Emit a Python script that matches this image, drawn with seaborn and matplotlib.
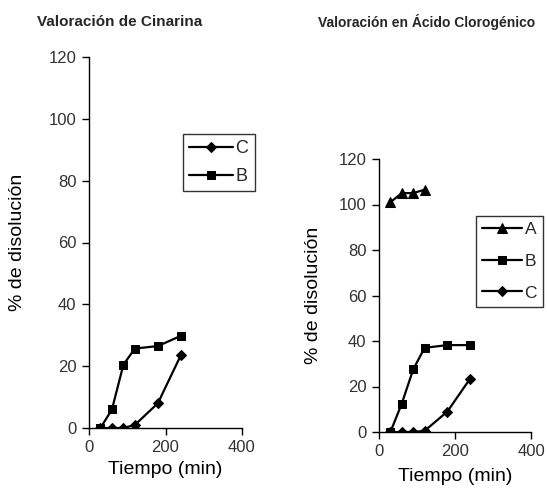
import matplotlib
matplotlib.use("Agg")
import matplotlib.pyplot as plt
import seaborn as sns
import pandas as pd

sns.set_theme(style="white")
plt.rcParams['font.family'] = ['Liberation Sans', 'DejaVu Sans']

# Left panel: Valoración de Cinarina
left_time = [30, 60, 90, 120, 180, 240]
left_B = [0, 6, 20.5, 25.7, 26.5, 29.8]
left_C = [0, 0, 0, 1, 8, 23.5]

# Right panel: Valoración en Ácido Clorogénico
right_time_A = [30, 60, 90, 120]
right_A = [101, 105, 105, 106.5]
right_time = [30, 60, 90, 120, 180, 240]
right_B = [0, 12.5, 27.5, 37, 38.2, 38.2]
right_C = [0, 0, 0, 0.5, 9, 23.5]

titles = ["Valoración de Cinarina", "Valoración en Ácido Clorogénico"]
xlabel = "Tiempo (min)"
ylabel = "% de disolución"
xticks = [0, 200, 400]
yticks = [0, 20, 40, 60, 80, 100, 120]

df_left = pd.DataFrame({
    "t": left_time * 2,
    "v": left_C + left_B,
    "s": ["C"] * len(left_time) + ["B"] * len(left_time),
})
df_right = pd.DataFrame({
    "t": right_time_A + right_time + right_time,
    "v": right_A + right_B + right_C,
    "s": ["A"] * len(right_time_A) + ["B"] * len(right_time) + ["C"] * len(right_time),
})

markers = {"A": "^", "B": "s", "C": "D"}
msizes = {"^": 7, "s": 5.2, "D": 5.0}
palette = {"A": "black", "B": "black", "C": "black"}

fig = plt.figure(figsize=(5.47, 4.88), dpi=100)
ax1 = fig.add_axes([89/547, 1-428/488, (242-89)/547, (428-57)/488])
ax2 = fig.add_axes([379/547, 1-432/488, (531-379)/547, (432-159)/488])

def draw(ax, df, order, leg_pos, ylabelpad, xlabelpad, spacing, lfs, hl):
    sns.lineplot(data=df, x="t", y="v", hue="s", style="s", hue_order=order,
                 style_order=order, markers=markers, dashes=False, palette=palette,
                 ax=ax, linewidth=1.6, markersize=5, markeredgecolor="black")
    for ln in ax.lines:
        m = ln.get_marker()
        if m in msizes:
            ln.set_markersize(msizes[m])
    ax.set_xlim(0, 400)
    ax.set_ylim(0, 120)
    ax.set_xticks(xticks)
    ax.set_yticks(yticks)
    for sp in ["top", "right"]:
        ax.spines[sp].set_visible(False)
    for sp in ["left", "bottom"]:
        ax.spines[sp].set_color("black")
        ax.spines[sp].set_linewidth(1.0)
    ax.tick_params(axis="both", direction="out", length=5, width=1, color="black",
                   labelsize=12, labelcolor="#333333", pad=4, bottom=True, left=True)
    ax.set_xlabel(xlabel, fontsize=14, color="black", labelpad=xlabelpad)
    ax.set_ylabel(ylabel, fontsize=14, color="black", labelpad=ylabelpad)
    handles, labels = ax.get_legend_handles_labels()
    for h in handles:
        m = h.get_marker()
        if m in msizes:
            h.set_markersize(msizes[m])
    leg = ax.legend(handles, labels, loc="upper left", bbox_to_anchor=leg_pos,
                    bbox_transform=fig.transFigure, frameon=True, fancybox=False,
                    fontsize=lfs, handlelength=hl, handletextpad=0.15,
                    borderpad=0.35, labelspacing=spacing, borderaxespad=0)
    leg.get_frame().set_edgecolor("black")
    leg.get_frame().set_linewidth(1.0)

draw(ax1, df_left, ["C", "B"], (183/547, 1-134/488), 16, 4, 0.6, 13, 2.4)
draw(ax2, df_right, ["A", "B", "C"], (476/547, 1-216/488), 12, 6, 0.95, 12.5, 2.3)

fig.text(37/547, 1-22/488, titles[0], fontsize=11, fontweight="bold",
         va="center", ha="left")
fig.text(318/547, 1-22/488, titles[1], fontsize=10, fontweight="bold",
         va="center", ha="left")

fig.savefig("out.png", dpi=100, facecolor="white")
